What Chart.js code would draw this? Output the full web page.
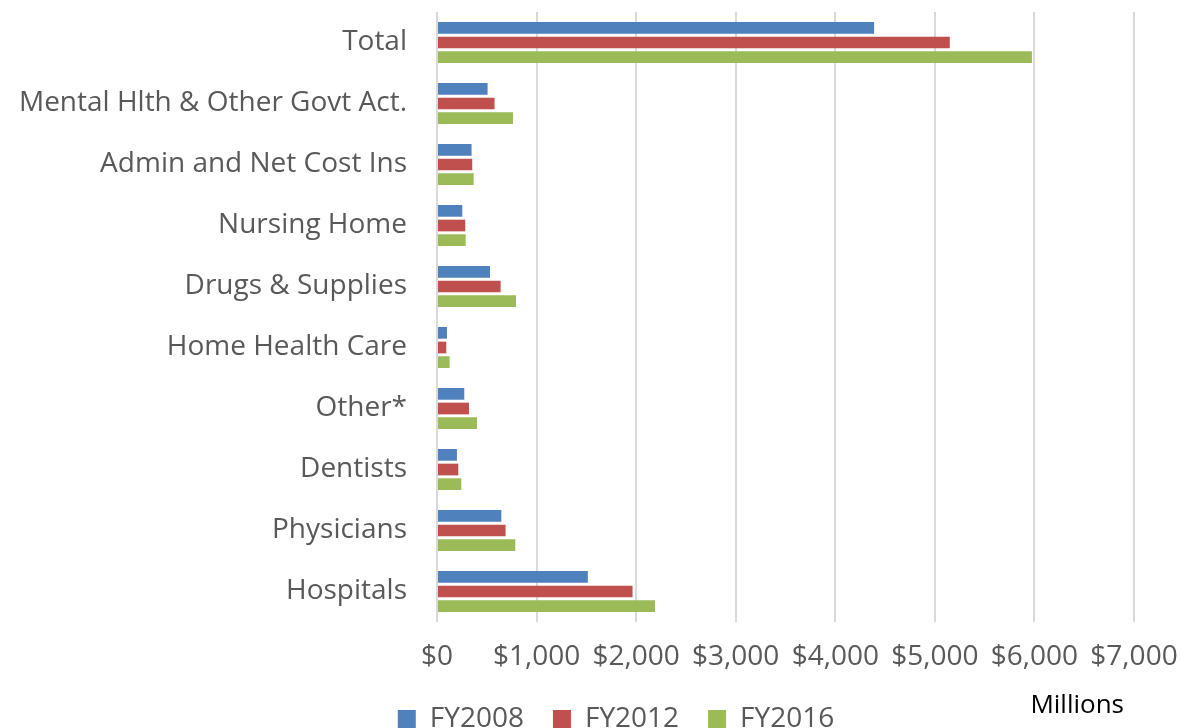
<!DOCTYPE html>
<html>
<head>
<meta charset="utf-8">
<script src="https://cdn.jsdelivr.net/npm/chart.js@4"></script>
<style>
  html, body { margin: 0; padding: 0; overflow: hidden; background: #fff; }
  #wrap { position: relative; width: 1182px; height: 743px; }
</style>
</head>
<body>
<div id="wrap"><canvas id="spendChart"></canvas></div>
<script>
let categories = ['Total', 'Mental Hlth & Other Govt Act.', 'Admin and Net Cost Ins', 'Nursing Home',
    'Drugs & Supplies', 'Home Health Care', 'Other*', 'Dentists', 'Physicians', 'Hospitals'];

let fy2008 = [4390, 508, 347, 254, 532, 100, 274, 200, 646, 1515];
let fy2012 = [5150, 578, 354, 284, 639, 93, 321, 214, 689, 1964];
let fy2016 = [5975, 763, 368, 288, 793, 127, 402, 244, 786, 2189];

let seriesNames = ['FY2008', 'FY2012', 'FY2016'];
let unitLabel = 'Millions';

let labelFont = "'Open Sans', sans-serif";
let grey = '#595959';

// axis unit text sits to the right, below the tick labels
let unitPlugin = {
    id : 'unitLabel',
    afterLayout(chart) {
        // nudge the legend a little right, like the original
        chart.legend.left += 18;
        chart.legend.right += 18;
    },
    afterDraw(chart) {
        let ctx = chart.ctx;
        ctx.save();
        ctx.font = "26px 'Open Sans', sans-serif";
        ctx.fillStyle = '#000';
        ctx.textAlign = 'right';
        ctx.textBaseline = 'middle';
        ctx.fillText(unitLabel, chart.chartArea.right - 10, chart.scales.x.bottom + 30);
        ctx.restore();
    }
};

let chartContainer = document.getElementById('spendChart').getContext('2d');

let config = {
    type : 'bar',
    data : {
        labels : categories,
        datasets : [
            { label : seriesNames[0], data : fy2008, backgroundColor : '#4f81bd' },
            { label : seriesNames[1], data : fy2012, backgroundColor : '#c0504d' },
            { label : seriesNames[2], data : fy2016, backgroundColor : '#9bbb59' }
        ]
    },
    options : {
        indexAxis : 'y',
        responsive : true,
        maintainAspectRatio : false,
        animation : false,
        categoryPercentage : 0.72,
        barPercentage : 0.8,
        layout : { padding : { top : 0, left : 14, right : 0, bottom : 0 } },
        scales : {
            x : {
                min : 0,
                max : 7000,
                ticks : {
                    stepSize : 1000,
                    padding : 18,
                    color : grey,
                    font : { family : labelFont, size : 28 },
                    callback : v => '$' + v.toLocaleString('en-US')
                },
                grid : { color : '#d9d9d9', lineWidth : 2, drawTicks : false },
                border : { display : false },
                afterFit : s => {
                    s.height = 54;
                    s.paddingLeft = 0;
                    s.paddingRight = 48;
                }
            },
            y : {
                ticks : {
                    padding : 30,
                    color : grey,
                    font : { family : labelFont, size : 28 }
                },
                grid : { display : false, drawTicks : false },
                border : { display : false },
                afterFit : s => {
                    s.width = 423;
                    s.paddingTop = 12;
                    s.paddingBottom = 0;
                }
            }
        },
        plugins : {
            legend : {
                position : 'bottom',
                labels : {
                    boxWidth : 18,
                    boxHeight : 18,
                    padding : 29,
                    color : grey,
                    font : { family : labelFont, size : 28 }
                }
            },
            tooltip : { enabled : false }
        }
    },
    plugins : [unitPlugin]
}

let chart = new Chart(chartContainer, config);
</script>
</body>
</html>
